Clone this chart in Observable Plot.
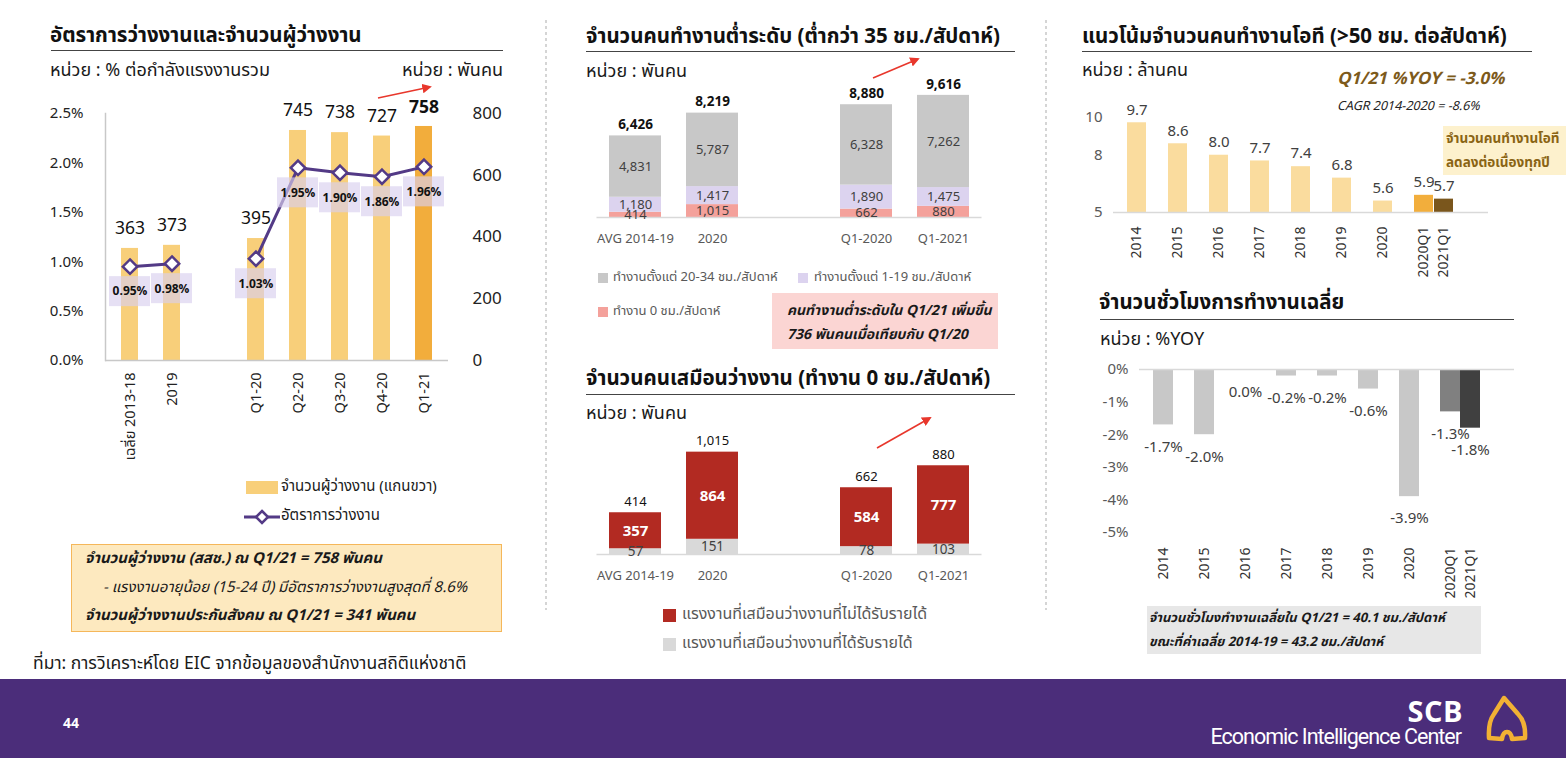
<!DOCTYPE html>
<html><head><meta charset="utf-8">
<script src="https://cdn.jsdelivr.net/npm/d3@7"></script>
<script src="https://cdn.jsdelivr.net/npm/@observablehq/plot@0.6"></script>
<style>
body{margin:0;background:#fff;}
#page{position:relative;width:1566px;height:758px;overflow:hidden;font-family:Tahoma,"Noto Sans Thai","Noto Sans",sans-serif;color:#1a1a1a;}
.abs{position:absolute;white-space:nowrap;line-height:1.25;}
.title{font-weight:bold;font-size:20.5px;color:#111;}
.hr{position:absolute;height:0;border-top:1.6px solid #444;}
.box{position:absolute;}
svg{overflow:visible;}
</style>
</head><body>
<div id="page"></div>
<script>
// ---------------- DATA ----------------
// Panel 1: unemployment rate & unemployed persons
const unempCats = ["เฉลี่ย 2013-18","2019","Q1-20","Q2-20","Q3-20","Q4-20","Q1-21"];
const unempDomain = ["เฉลี่ย 2013-18","2019"," ","Q1-20","Q2-20","Q3-20","Q4-20","Q1-21"];
const unempCount = [363,373,395,745,738,727,758];          // thousand persons (right axis)
const unempRate = [0.95,0.98,1.03,1.95,1.90,1.86,1.96];     // % of labour force (left axis)
const rateSegment = ["a","a","b","b","b","b","b"];
const rateTicks = [0,0.5,1.0,1.5,2.0,2.5];
const countTicks = [0,200,400,600,800];

// Panel 2: underemployed (<35 hrs/week)
const ueCats = ["AVG 2014-19","2020","Q1-2020","Q1-2021"];
const ueDomain = ["AVG 2014-19","2020"," ","Q1-2020","Q1-2021"];
const ueSeries = ["ทำงาน 0 ชม./สัปดาห์","ทำงานตั้งแต่ 1-19 ชม./สัปดาห์","ทำงานตั้งแต่ 20-34 ชม./สัปดาห์"];
const ue0h = [414,1015,662,880];
const ue1to19 = [1180,1417,1890,1475];
const ue20to34 = [4831,5787,6328,7262];
const ueTotal = [6426,8219,8880,9616];

// Panel 3: quasi-unemployed (0 hrs/week)
const quCats = ["AVG 2014-19","2020","Q1-2020","Q1-2021"];
const quDomain = ["AVG 2014-19","2020"," ","Q1-2020","Q1-2021"];
const quSeries = ["แรงงานที่เสมือนว่างงานที่ได้รับรายได้","แรงงานที่เสมือนว่างงานที่ไม่ได้รับรายได้"];
const quPaid = [57,151,78,103];
const quUnpaid = [357,864,584,777];
const quTotal = [414,1015,662,880];

// Panel 4: overtime workers (>50 hrs/week), million persons
const otCats = ["2014","2015","2016","2017","2018","2019","2020","2020Q1","2021Q1"];
const otValues = [9.7,8.6,8.0,7.7,7.4,6.8,5.6,5.9,5.7];
const otTicks = [5,8,10];

// Panel 5: average working hours, %YOY
const hrsCats = ["2014","2015","2016","2017","2018","2019","2020","2020Q1","2021Q1"];
const hrsYoY = [-1.7,-2.0,-0.03,-0.2,-0.2,-0.6,-3.9,-1.3,-1.8];
const hrsTicks = [0,-1,-2,-3,-4,-5];

// ---------------- STYLE ----------------
const FONT = 'Tahoma,"Noto Sans Thai","Noto Sans",sans-serif';
const C = {
  bar:"#f8cf7a", barHi:"#f2ad3c", purple:"#533a86", box:"#d8d0ee",
  ue:["#f4a19b","#dcd3ef","#c8c8c8"], qu:["#d9d9d9","#b22a22"],
  ot:"#fadc9e", otQ1:"#f2ae3c", otQ1b:"#7a561c",
  hrs:"#c8c8c8", hrsQ1:"#808080", hrsQ1b:"#404040"
};
const band = (domain,p)=>({type:"band",domain,paddingInner:p,paddingOuter:p/2,axis:null});
const page = document.getElementById("page");
function place(el,left,top){const d=document.createElement("div");d.style.cssText=`position:absolute;left:${left}px;top:${top}px;`;d.appendChild(el);page.appendChild(d);return d;}
function txt(html,left,cy,css="",right=false){const d=document.createElement("div");d.className="abs";
  d.style.cssText=(right?`right:${1566-left}px;`:`left:${left}px;`)+`top:${cy}px;transform:translateY(-50%);`+css;d.innerHTML=html;page.appendChild(d);return d;}
function rect(l,t,w,h,css){const d=document.createElement("div");d.className="box";d.style.cssText=`left:${l}px;top:${t}px;width:${w}px;height:${h}px;`+css;page.appendChild(d);return d;}
function hr(l,t,w){const d=document.createElement("div");d.className="hr";d.style.cssText=`left:${l}px;top:${t}px;width:${w}px;`;page.appendChild(d);}
const fmt = d3.format(",");

// ---------------- PANEL 1 ----------------
const RF = 800/2.5; // right-axis units per left-axis %
const p1 = unempCats.map((c,i)=>({cat:c,count:unempCount[i],rate:unempRate[i],seg:rateSegment[i],latest:i===unempCats.length-1}));
place(Plot.plot({
  width:480,height:380,marginLeft:65,marginRight:72,marginTop:18,marginBottom:115,
  style:{fontFamily:FONT,fontSize:"14px",color:"#222",background:"transparent"},
  x:band(unempDomain,0.6),
  y:{domain:[0,800],axis:null},
  marks:[
    Plot.barY(p1,{x:"cat",y:"count",fill:d=>d.latest?C.barHi:C.bar}),
    Plot.ruleY([0],{stroke:"#c8c8c8",strokeWidth:1.5}),
    Plot.frame({anchor:"left",stroke:"#c8c8c8",strokeWidth:1.5}),
    Plot.axisY({ticks:rateTicks.map(t=>t*RF),tickFormat:d=>(d/RF).toFixed(1)+"%",anchor:"left",tickSize:0,tickPadding:22,label:null,fontSize:15}),
    Plot.axisY({ticks:countTicks,anchor:"right",tickSize:0,tickPadding:24,label:null,fontSize:17}),
    Plot.axisX({tickRotate:-90,tickSize:0,tickPadding:12,label:null,fontSize:14.5,tickFormat:d=>d.trim()}),
    Plot.line(p1,{x:"cat",y:d=>d.rate*RF,z:"seg",stroke:C.purple,strokeWidth:3}),
    Plot.barY(p1,{x:"cat",y1:d=>d.rate*RF,y2:d=>d.rate*RF,insetTop:10,insetBottom:-40,insetLeft:-12,insetRight:-12,fill:C.box,fillOpacity:0.65}),
    Plot.dot(p1,{x:"cat",y:d=>d.rate*RF,symbol:"diamond2",r:6.5,fill:"white",stroke:C.purple,strokeWidth:2.5}),
    Plot.text(p1,{x:"cat",y:d=>d.rate*RF,dy:25,text:d=>d.rate.toFixed(2)+"%",fontWeight:"bold",fontSize:12,fill:"#111"}),
    Plot.text(p1,{filter:d=>!d.latest,x:"cat",y:"count",dy:-20,text:d=>String(d.count),fontSize:17.5,fill:"#111"}),
    Plot.text(p1,{filter:d=>d.latest,x:"cat",y:"count",dy:-19,text:d=>String(d.count),fontSize:17.5,fontWeight:"bold",fill:"#111"})
  ]
}),40,95);

// ---------------- PANEL 2 ----------------
const ueRows = [];
ueCats.forEach((c,i)=>{[ue0h,ue1to19,ue20to34].forEach((arr,k)=>ueRows.push({cat:c,series:ueSeries[k],value:arr[i]}));});
const ueTot = ueCats.map((c,i)=>({cat:c,total:ueTotal[i]}));
place(Plot.plot({
  width:420,height:180,marginLeft:11.5,marginRight:23.5,marginTop:10,marginBottom:43,
  style:{fontFamily:FONT,fontSize:"13px",color:"#595959",background:"transparent"},
  x:band(ueDomain,0.325),
  y:{domain:[0,10000],axis:null},
  color:{domain:ueSeries,range:C.ue},
  marks:[
    Plot.barY(ueRows,{x:"cat",y:"value",fill:"series"}),
    Plot.ruleY([0],{stroke:"#d9d9d9",strokeWidth:1.5}),
    Plot.axisX({ticks:ueCats,tickSize:0,tickPadding:16,label:null,fontSize:13}),
    Plot.text(ueRows,Plot.stackY({x:"cat",y:"value",z:"series",text:d=>fmt(d.value),fill:"#404040",fontSize:13})),
    Plot.text(ueTot,{x:"cat",y:"total",dy:-11,text:d=>fmt(d.total),fontWeight:"bold",fontSize:13.5,fill:"#111"})
  ]
}),585,80);

// ---------------- PANEL 3 ----------------
const quRows = [];
quCats.forEach((c,i)=>{quRows.push({cat:c,series:quSeries[0],value:quPaid[i]});quRows.push({cat:c,series:quSeries[1],value:quUnpaid[i]});});
const quTot = quCats.map((c,i)=>({cat:c,total:quTotal[i]}));
place(Plot.plot({
  width:420,height:172,marginLeft:11.5,marginRight:23.5,marginTop:8,marginBottom:43,
  style:{fontFamily:FONT,fontSize:"13px",color:"#595959",background:"transparent"},
  x:band(quDomain,0.33),
  y:{domain:[0,1200],axis:null},
  color:{domain:quSeries,range:C.qu},
  marks:[
    Plot.barY(quRows,{x:"cat",y:"value",fill:"series"}),
    Plot.ruleY([0],{stroke:"#d9d9d9",strokeWidth:1.5}),
    Plot.axisX({ticks:quCats,tickSize:0,tickPadding:16,label:null,fontSize:13}),
    Plot.text(quRows,Plot.stackY({x:"cat",y:"value",z:"series",text:d=>d.series===quSeries[1]?String(d.value):"",fill:"white",fontWeight:"bold",fontSize:15})),
    Plot.text(quRows,Plot.stackY({x:"cat",y:"value",z:"series",text:d=>d.series===quSeries[0]?String(d.value):"",fill:"#404040",fontSize:13.5})),
    Plot.text(quTot,{x:"cat",y:"total",dy:-11,text:d=>fmt(d.total),fontSize:13,fill:"#111"})
  ]
}),585,425);

// ---------------- PANEL 4 ----------------
const otLast = otCats[otCats.length-1];
const otColor = c => c==="2020Q1"?C.otQ1:c==="2021Q1"?C.otQ1b:C.ot;
const ot = otCats.map((c,i)=>({cat:c,value:otValues[i]}));
place(Plot.plot({
  width:428,height:195,marginLeft:43,marginRight:10,marginTop:22,marginBottom:68,
  style:{fontFamily:FONT,fontSize:"14px",color:"#333",background:"transparent"},
  x:band(otCats,0.545),
  y:{domain:[5,10.5],axis:null},
  marks:[
    Plot.barY(ot,{filter:d=>d.cat!==otLast,x:"cat",y1:5,y2:"value",fill:d=>otColor(d.cat)}),
    Plot.barY(ot,{filter:d=>d.cat===otLast,x:"cat",y1:5,y2:"value",fill:d=>otColor(d.cat),dx:-21}),
    Plot.ruleY([5],{stroke:"#d9d9d9",strokeWidth:1.5}),
    Plot.axisY({ticks:otTicks,tickFormat:d=>String(d),tickSize:0,tickPadding:11,label:null,fontSize:15,color:"#595959"}),
    Plot.axisX({ticks:otCats.slice(0,-1),tickRotate:-90,tickSize:0,tickPadding:14,label:null,fontSize:14}),
    Plot.text(ot,{filter:d=>d.cat===otLast,x:"cat",y:()=>5,text:"cat",rotate:-90,textAnchor:"end",dx:-21,dy:14,fontSize:14,fill:"#333"}),
    Plot.text(ot,{filter:d=>d.cat!==otLast,x:"cat",y:"value",dy:-13,text:d=>d.value.toFixed(1),fontSize:15,fill:"#404040"}),
    Plot.text(ot,{filter:d=>d.cat===otLast,x:"cat",y:"value",dy:-13,dx:-21,text:d=>d.value.toFixed(1),fontSize:15,fill:"#404040"})
  ]
}),1070,85);

// ---------------- PANEL 5 ----------------
const hrsColor = c => c==="2020Q1"?C.hrsQ1:c==="2021Q1"?C.hrsQ1b:C.hrs;
const hrs = hrsCats.map((c,i)=>({cat:c,value:hrsYoY[i]}));
const hrsLabel = v => (Math.abs(v)<0.05?"0.0":v.toFixed(1))+"%";
const hrsLast = hrsCats[hrsCats.length-1];
place(Plot.plot({
  width:449,height:245,marginLeft:69,marginRight:5,marginTop:14,marginBottom:68,
  style:{fontFamily:FONT,fontSize:"14px",color:"#333",background:"transparent"},
  x:band(hrsCats,0.52),
  y:{domain:[-5,0],axis:null},
  marks:[
    Plot.barY(hrs,{filter:d=>d.cat!==hrsLast,x:"cat",y:"value",fill:d=>hrsColor(d.cat)}),
    Plot.barY(hrs,{filter:d=>d.cat===hrsLast,x:"cat",y:"value",fill:d=>hrsColor(d.cat),dx:-21}),
    Plot.ruleY([0],{stroke:"#d9d9d9",strokeWidth:1.5}),
    Plot.axisY({ticks:hrsTicks,tickFormat:d=>d+"%",tickSize:0,tickPadding:11,label:null,fontSize:15,color:"#595959"}),
    Plot.axisX({ticks:hrsCats.slice(0,-1),tickRotate:-90,tickSize:0,tickPadding:15,label:null,fontSize:14}),
    Plot.text(hrs,{filter:d=>d.cat===hrsLast,x:"cat",y:()=>-5,text:"cat",rotate:-90,textAnchor:"end",dx:-21,dy:15,fontSize:14,fill:"#333"}),
    Plot.text(hrs,{filter:d=>d.cat!==hrsLast,x:"cat",y:"value",dy:22,text:d=>hrsLabel(d.value),fontSize:15,fill:"#404040"}),
    Plot.text(hrs,{filter:d=>d.cat===hrsLast,x:"cat",y:"value",dy:22,dx:-21,text:d=>hrsLabel(d.value),fontSize:15,fill:"#404040"})
  ]
}),1070,355);

// ---------------- TEXT / ANNOTATIONS ----------------
page.insertAdjacentHTML("beforeend",`<svg style="position:absolute;left:0;top:0;pointer-events:none" width="1566" height="758">
 <defs><marker id="ah" viewBox="0 0 10 10" refX="8" refY="5" markerWidth="6" markerHeight="6" orient="auto"><path d="M0,0L10,5L0,10z" fill="#e8372c"/></marker></defs>
 <line x1="546" y1="20" x2="546" y2="610" stroke="#c8c8c8" stroke-width="1.5" stroke-dasharray="3,3"/>
 <line x1="1046" y1="20" x2="1046" y2="610" stroke="#c8c8c8" stroke-width="1.5" stroke-dasharray="3,3"/>
 <line x1="378" y1="98" x2="430" y2="87" stroke="#e8372c" stroke-width="1.6" marker-end="url(#ah)"/>
 <line x1="873" y1="78" x2="918" y2="59" stroke="#e8372c" stroke-width="1.6" marker-end="url(#ah)"/>
 <line x1="877" y1="448" x2="930" y2="418" stroke="#e8372c" stroke-width="1.6" marker-end="url(#ah)"/>
</svg>`);

// Panel 1 texts
txt("อัตราการว่างงานและจำนวนผู้ว่างงาน",50,36).className+=" title";
hr(51,50,452);
txt("หน่วย : % ต่อกำลังแรงงานรวม",50,71,"font-size:18px;");
txt("หน่วย : พันคน",503,71,"font-size:18px;",true);
rect(246,481,32,13,`background:${C.bar};`);
txt("จำนวนผู้ว่างงาน (แกนขวา)",281,487,"font-size:15px;");
page.insertAdjacentHTML("beforeend",`<svg style="position:absolute;left:243px;top:508px" width="38" height="18"><line x1="1" y1="9" x2="37" y2="9" stroke="${C.purple}" stroke-width="3"/><path d="M19,3L25,9L19,15L13,9Z" fill="white" stroke="${C.purple}" stroke-width="2.5"/></svg>`);
txt("อัตราการว่างงาน",281,516,"font-size:15px;");
rect(71,544,431,88,"background:#fde9bf;border:1.5px solid #f5b75a;box-sizing:border-box;");
txt("จำนวนผู้ว่างงาน (สสช.) ณ Q1/21 = 758 พันคน",85,559,"font-size:15px;font-weight:bold;font-style:italic;");
txt("- แรงงานอายุน้อย (15-24 ปี) มีอัตราการว่างงานสูงสุดที่ 8.6%",103,588,"font-size:15px;font-style:italic;");
txt("จำนวนผู้ว่างงานประกันสังคม ณ Q1/21 = 341 พันคน",85,616,"font-size:15px;font-weight:bold;font-style:italic;");
txt("ที่มา: การวิเคราะห์โดย EIC จากข้อมูลของสำนักงานสถิติแห่งชาติ",33,664,"font-size:17.5px;");

// Panel 2 texts
txt("จำนวนคนทำงานต่ำระดับ (ต่ำกว่า 35 ชม./สัปดาห์)",586,37).className+=" title";
hr(586,51,429);
txt("หน่วย : พันคน",586,72,"font-size:18px;");
rect(598,273,10,10,`background:${C.ue[2]};`);
txt(ueSeries[2],613,277,"font-size:13px;color:#595959;");
rect(798,273,10,10,`background:${C.ue[1]};`);
txt(ueSeries[1],814,277,"font-size:13px;color:#595959;");
rect(598,307,10,10,`background:${C.ue[0]};`);
txt(ueSeries[0],613,311,"font-size:13px;color:#595959;");
rect(772,293,226,56,"background:#fbd5d3;");
txt("คนทำงานต่ำระดับใน Q1/21 เพิ่มขึ้น",787,311,"font-size:14px;font-weight:bold;font-style:italic;");
txt("736 พันคนเมื่อเทียบกับ Q1/20",787,335,"font-size:14px;font-weight:bold;font-style:italic;");

// Panel 3 texts
txt("จำนวนคนเสมือนว่างงาน (ทำงาน 0 ชม./สัปดาห์)",586,379).className+=" title";
hr(586,394,429);
txt("หน่วย : พันคน",586,414,"font-size:18px;");
rect(663,609,13,13,`background:${C.qu[1]};`);
txt(quSeries[1],682,614,"font-size:16px;color:#595959;");
rect(663,638,13,13,`background:${C.qu[0]};`);
txt(quSeries[0],682,643,"font-size:16px;color:#595959;");

// Panel 4 texts
txt("แนวโน้มจำนวนคนทำงานโอที (&gt;50 ชม. ต่อสัปดาห์)",1082,37).className+=" title";
hr(1082,51,450);
txt("หน่วย : ล้านคน",1082,71,"font-size:18px;");
txt("Q1/21 %YOY = -3.0%",1337,80,"font-size:17px;font-weight:bold;font-style:italic;color:#7d5a1b;");
txt("CAGR 2014-2020 = -8.6%",1337,107,"font-size:12.5px;font-style:italic;color:#222;");
rect(1443,126,123,49,"background:#fdf1cd;");
txt("จำนวนคนทำงานโอที",1446,139,"font-size:13.5px;font-weight:bold;color:#8a6414;");
txt("ลดลงต่อเนื่องทุกปี",1446,163,"font-size:13.5px;font-weight:bold;color:#8a6414;");

// Panel 5 texts
txt("จำนวนชั่วโมงการทำงานเฉลี่ย",1099,303).className+=" title";
hr(1100,319,414);
txt("หน่วย : %YOY",1100,340,"font-size:18px;");
rect(1147,606,334,48,"background:#e7e7e7;");
txt("จำนวนชั่วโมงทำงานเฉลี่ยใน Q1/21 = 40.1 ชม./สัปดาห์",1149,618,"font-size:13px;font-weight:bold;font-style:italic;");
txt("ขณะที่ค่าเฉลี่ย 2014-19 = 43.2 ชม./สัปดาห์",1149,642,"font-size:13px;font-weight:bold;font-style:italic;");

// Footer
rect(0,679,1566,79,"background:#4b2d7a;");
txt("44",63,723,"font-size:14px;font-weight:bold;color:white;font-family:'Open Sans',sans-serif;");
txt("SCB",1463,711,"font-size:29px;font-weight:bold;color:white;font-family:'Open Sans',sans-serif;letter-spacing:0.5px;",true);
txt("Economic Intelligence Center",1461,737,"font-size:21.5px;color:white;font-family:'Roboto',sans-serif;letter-spacing:-1px;",true);
page.insertAdjacentHTML("beforeend",`<svg style="position:absolute;left:1484px;top:694px" width="48" height="50"><path d="M20,4 L34,20 Q42,28 41,44 L28,45 Q27,38 23,38 Q19,38 18,45 L5,44 Q4,28 10,20 Z" fill="none" stroke="#f2b134" stroke-width="4.5" stroke-linejoin="round"/></svg>`);
</script>
</body></html>
